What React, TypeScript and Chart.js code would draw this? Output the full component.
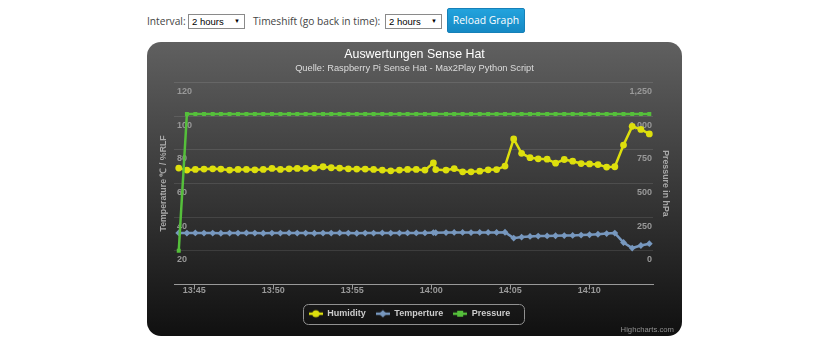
import React, { useEffect, useRef } from "react";
import { Chart, registerables } from "chart.js";

Chart.register(...registerables);

// ---- data ----
const times = [
  "13:44:01", "13:44:32", "13:45:04", "13:45:37", "13:46:10", "13:46:41", "13:47:14", "13:47:46",
  "13:48:18", "13:48:50", "13:49:22", "13:49:55", "13:50:27", "13:51:00", "13:51:31", "13:52:03",
  "13:52:36", "13:53:09", "13:53:40", "13:54:12", "13:54:45", "13:55:17", "13:55:49", "13:56:21",
  "13:56:54", "13:57:26", "13:57:59", "13:58:30", "13:59:03", "13:59:36", "14:00:08", "14:00:17",
  "14:00:56", "14:01:27", "14:01:59", "14:02:31", "14:03:04", "14:03:36", "14:04:08", "14:04:40",
  "14:05:13", "14:05:43", "14:06:15", "14:06:46", "14:07:20", "14:07:52", "14:08:25", "14:08:57",
  "14:09:29", "14:10:01", "14:10:33", "14:11:06", "14:11:37", "14:12:10", "14:12:43", "14:13:16",
  "14:13:48",
];

const humidity = [
  69.1, 67.9, 68.3, 68.5, 68.7, 68.5, 67.9, 68.3, 68.3, 68.1, 68.3, 68.9, 68.3, 68.7, 68.9, 68.9,
  69.1, 69.9, 69.3, 69.1, 68.7, 68.5, 68.5, 68.3, 67.9, 67.5, 67.9, 68.3, 68.3, 67.9, 72.2, 68.2,
  67.9, 68.8, 66.9, 66.9, 67.3, 68.1, 68.2, 70.3, 86.4, 77.9, 75.3, 74.6, 74.4, 72.0, 74.2, 73.2,
  71.8, 71.6, 71.2, 69.7, 69.9, 82.8, 93.9, 92.1, 89.4,
];

const temperature = [
  30.6, 30.5, 30.6, 30.5, 30.5, 30.4, 30.5, 30.5, 30.6, 30.5, 30.4, 30.5, 30.5, 30.6, 30.5, 30.5,
  30.4, 30.5, 30.5, 30.6, 30.5, 30.4, 30.5, 30.5, 30.6, 30.5, 30.5, 30.6, 30.6, 30.6, 30.8, 30.7,
  30.8, 30.9, 30.9, 30.8, 30.9, 30.9, 30.9, 31.0, 27.5, 28.1, 28.5, 28.7, 28.8, 28.9, 29.0, 29.1,
  29.3, 29.5, 29.8, 30.2, 30.5, 24.9, 21.6, 23.1, 24.2,
];

const pressure = [
  0, 1016.2, 1016.1, 1016.2, 1016.0, 1016.1, 1016.2, 1016.1, 1016.0, 1016.1, 1016.2, 1016.1,
  1016.0, 1016.1, 1016.1, 1016.2, 1016.0, 1016.1, 1016.1, 1016.0, 1016.2, 1016.1, 1016.1, 1016.0,
  1016.1, 1016.0, 1016.1, 1016.1, 1016.0, 1016.0, 1016.1, 1016.0, 1016.0, 1015.9, 1016.0, 1016.0,
  1015.9, 1016.0, 1015.9, 1015.9, 1016.0, 1015.9, 1015.9, 1015.8, 1015.9, 1015.9, 1015.8, 1015.9,
  1015.8, 1015.8, 1015.9, 1015.8, 1015.8, 1015.7, 1015.8, 1015.8, 1015.7,
];

const xTickLabels = ["13:45", "13:50", "13:55", "14:00", "14:05", "14:10"];
const xRange = ["13:43:43", "14:14:02"];
const leftTicks = [0, 20, 40, 60, 80, 100, 120];
const rightTicks = [-250, 0, 250, 500, 750, 1000, 1250];

const seriesNames = ["Humidity", "Temperture", "Pressure"];
const seriesColors = ["#DDDF0D", "#7798BF", "#55BF3B"];

const toSec = (t: string) => {
  const [h, m, s = "0"] = t.split(":");
  return Number(h) * 3600 + Number(m) * 60 + Number(s);
};
const fmtTime = (v: number) => {
  const h = Math.floor(v / 3600);
  const m = Math.floor((v % 3600) / 60);
  return `${h}:${String(m).padStart(2, "0")}`;
};

function makeSymbol(color: string, shape: string) {
  const c = document.createElement("canvas");
  c.width = 14;
  c.height = 10;
  const ctx = c.getContext("2d")!;
  ctx.strokeStyle = color;
  ctx.lineWidth = 2.5;
  ctx.beginPath();
  ctx.moveTo(0, 5);
  ctx.lineTo(14, 5);
  ctx.stroke();
  ctx.fillStyle = color;
  ctx.beginPath();
  if (shape === "circle") {
    ctx.arc(7, 5, 3.6, 0, Math.PI * 2);
  } else if (shape === "diamond") {
    ctx.moveTo(7, 1.2);
    ctx.lineTo(10.8, 5);
    ctx.lineTo(7, 8.8);
    ctx.lineTo(3.2, 5);
    ctx.closePath();
  } else {
    ctx.rect(4, 2, 6, 6);
  }
  ctx.fill();
  return c;
}

const legendBoxPlugin = {
  id: "legendBox",
  afterLayout(chart: any) {
    if (chart.legend) {
      chart.legend.left -= 5;
      chart.legend.right -= 5;
    }
  },
  afterDraw(chart: any) {
    const hb = chart.legend?.legendHitBoxes;
    if (!hb || !hb.length) return;
    const ctx = chart.ctx;
    const left = Math.min(...hb.map((b: any) => b.left)) - 6;
    const right = Math.max(...hb.map((b: any) => b.left + b.width)) + 14;
    const cy = hb[0].top + hb[0].height / 2;
    ctx.save();
    ctx.strokeStyle = "#909090";
    ctx.lineWidth = 1;
    ctx.beginPath();
    ctx.roundRect(Math.round(left) + 0.5, Math.round(cy - 10) + 0.5, Math.round(right - left), 20, 5);
    ctx.stroke();
    ctx.restore();
  },
};

function ChartBox() {
  const ref = useRef<HTMLCanvasElement | null>(null);
  useEffect(() => {
    if (!ref.current) return;
    const shapes = ["circle", "diamond", "square"];
    const symbols = seriesColors.map((c, i) => makeSymbol(c, shapes[i]));
    const mk = (vals: number[]) => times.map((t, i) => ({ x: toSec(t), y: vals[i] }));
    const font = (size: number, weight: any = "normal") => ({ family: "'Liberation Sans', Arial, sans-serif", size, weight });

    const chart = new Chart(ref.current, {
      type: "line",
      data: {
        datasets: [
          {
            label: seriesNames[0], data: mk(humidity), yAxisID: "yL",
            borderColor: seriesColors[0], backgroundColor: seriesColors[0],
            pointBackgroundColor: seriesColors[0], pointStyle: "circle", pointRadius: 3.4,
            pointBorderWidth: 0, borderWidth: 2.5, tension: 0, order: 3,
          },
          {
            label: seriesNames[1], data: mk(temperature), yAxisID: "yL",
            borderColor: seriesColors[1], backgroundColor: seriesColors[1],
            pointBackgroundColor: seriesColors[1], pointStyle: "rectRot", pointRadius: 3.4,
            pointBorderWidth: 0, borderWidth: 2.5, tension: 0, order: 2,
          },
          {
            label: seriesNames[2], data: mk(pressure), yAxisID: "yR",
            borderColor: seriesColors[2], backgroundColor: seriesColors[2],
            pointBackgroundColor: seriesColors[2], pointStyle: "rect", pointRadius: 2.8,
            pointBorderWidth: 0, borderWidth: 2.5, tension: 0, order: 1,
          },
        ] as any,
      },
      options: {
        responsive: false,
        animation: false,
        layout: { padding: { left: 0, right: 0, top: 0, bottom: 7.8 } },
        plugins: {
          title: {
            display: true, text: "Auswertungen Sense Hat", color: "#FFFFFF",
            font: font(12.4), padding: { top: 5.6, bottom: 0 },
          },
          subtitle: {
            display: true, text: "Quelle: Raspberry Pi Sense Hat - Max2Play Python Script",
            color: "#DDDDDD", font: font(9.3), padding: { top: 0.2, bottom: 8.6 },
          },
          legend: {
            position: "bottom",
            labels: {
              usePointStyle: true, pointStyleWidth: 14, color: "#CCCCCC",
              font: font(9, "bold"), padding: 10,
              generateLabels: (chart: any) => {
                const items = Chart.defaults.plugins.legend.labels.generateLabels(chart);
                items.sort((a: any, b: any) => a.datasetIndex - b.datasetIndex);
                return items.map((it: any) => ({ ...it, pointStyle: symbols[it.datasetIndex], fontColor: "#CCCCCC" }));
              },
            },
          },
          tooltip: { enabled: false },
        },
        scales: {
          x: {
            type: "linear",
            min: toSec(xRange[0]),
            max: toSec(xRange[1]),
            afterBuildTicks: (s: any) => { s.ticks = xTickLabels.map((t) => ({ value: toSec(t) })); },
            afterFit: (s: any) => { s.height = 14.8; },
            grid: { drawOnChartArea: false, drawTicks: true, tickLength: 5, tickColor: "#999999" },
            border: { display: true, color: "#999999" },
            ticks: {
              color: "#999999", font: font(9, "bold"), padding: -4, maxRotation: 0, autoSkip: false,
              callback: (v: any) => fmtTime(Number(v)),
            },
          },
          yL: {
            position: "left",
            min: leftTicks[0],
            max: leftTicks[leftTicks.length - 1],
            afterBuildTicks: (s: any) => { s.ticks = leftTicks.map((v) => ({ value: v })); },
            afterFit: (s: any) => { s.width = 27; },
            grid: { color: "rgba(255,255,255,0.1)", drawTicks: false },
            border: { display: false },
            ticks: {
              mirror: true, padding: 3, labelOffset: 9, color: "#999999", font: font(9, "bold"),
              callback: (v: any) => (Number(v) === leftTicks[0] ? "" : String(v)),
            },
            title: {
              display: true, text: "Temperature ℃ / %RLF", color: "#AAAAAA",
              font: font(8.8, "bold"), padding: { top: 11.5, bottom: 0 },
            },
          },
          yR: {
            position: "right",
            min: rightTicks[0],
            max: rightTicks[rightTicks.length - 1],
            afterBuildTicks: (s: any) => { s.ticks = rightTicks.map((v) => ({ value: v })); },
            afterFit: (s: any) => { s.width = 29; },
            grid: { drawOnChartArea: false, drawTicks: false },
            border: { display: false },
            ticks: {
              mirror: true, padding: -1, labelOffset: 9, color: "#999999", font: font(9, "bold"),
              callback: (v: any) => (Number(v) === rightTicks[0] ? "" : Number(v).toLocaleString("en-US")),
            },
            title: {
              display: true, text: "Pressure in hPa", color: "#AAAAAA",
              font: font(8.8, "bold"), padding: { top: 11.7, bottom: 0 },
            },
          },
        },
      } as any,
      plugins: [legendBoxPlugin],
    });
    return () => chart.destroy();
  }, []);
  return <canvas ref={ref} width={535} height={294} style={{ display: "block", width: 535, height: 294 }} />;
}

const ctrlFont = "'Open Sans', sans-serif";

function FakeSelect({ left }: { left: number }) {
  return (
    <div
      style={{
        position: "absolute", left, top: 14, width: 57, height: 15, boxSizing: "border-box",
        border: "1px solid #8a8a8a", background: "#fff", fontFamily: "'Liberation Sans', Arial, sans-serif",
        fontSize: 9.5, lineHeight: "13px", color: "#000", paddingLeft: 3,
      }}
    >
      2 hours
      <span style={{ position: "absolute", right: 4, top: 0, fontSize: 6, lineHeight: "13px" }}>▼</span>
    </div>
  );
}

export default function App() {
  return (
    <div style={{ position: "absolute", left: 0, top: 0, width: 818, height: 351, background: "#fff" }}>
      <div style={{ position: "absolute", left: 147, top: 14, fontFamily: ctrlFont, fontSize: 10.2, lineHeight: "15px", color: "#444" }}>
        Interval:
      </div>
      <FakeSelect left={188} />
      <div style={{ position: "absolute", left: 253, top: 14, fontFamily: ctrlFont, fontSize: 10.2, lineHeight: "15px", color: "#444" }}>
        Timeshift (go back in time):
      </div>
      <FakeSelect left={385} />
      <div
        style={{
          position: "absolute", left: 447, top: 8, width: 78, height: 25, boxSizing: "border-box",
          background: "linear-gradient(#22a3dd, #1689c4)", border: "1px solid #1680b8", borderRadius: 2,
          color: "#fff", fontFamily: ctrlFont, fontSize: 10.4, lineHeight: "23px", textAlign: "center",
        }}
      >
        Reload Graph
      </div>
      <div
        style={{
          position: "absolute", left: 147, top: 42, width: 535, height: 294, borderRadius: 14, overflow: "hidden",
          background: "linear-gradient(rgb(96,96,96), rgb(16,16,16))",
        }}
      >
        <ChartBox />
        <div
          style={{
            position: "absolute", left: 400, top: 283, width: 127, textAlign: "right",
            fontFamily: "'Liberation Sans', Arial, sans-serif", fontSize: 7.7, lineHeight: "10px", color: "#909090",
          }}
        >
          Highcharts.com
        </div>
      </div>
    </div>
  );
}
